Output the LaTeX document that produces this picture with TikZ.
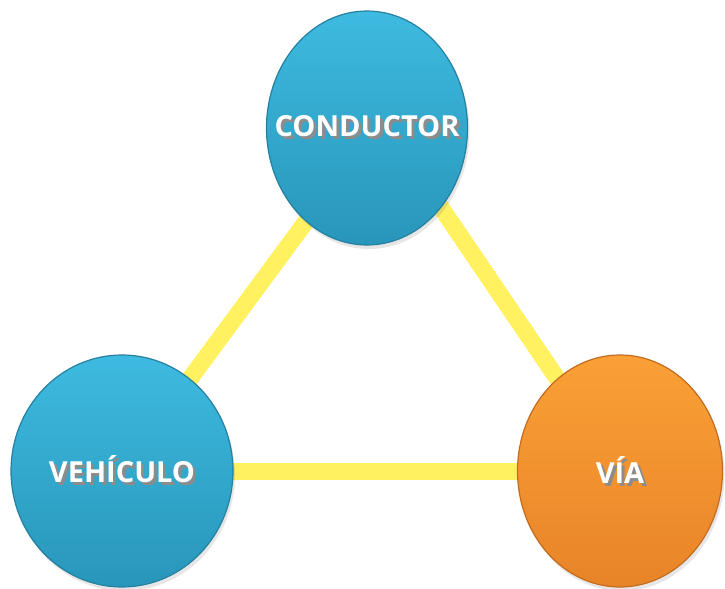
\documentclass[tikz,border=0pt]{standalone}
\usepackage{fontspec}
\setmainfont{Open Sans}
\usetikzlibrary{shapes.geometric}
\usetikzlibrary{shadows}
\usetikzlibrary{backgrounds}

\definecolor{bluetop}{RGB}{62,186,224}
\definecolor{bluebot}{RGB}{40,150,186}
\definecolor{blueedge}{RGB}{38,128,160}
\definecolor{orangetop}{RGB}{250,160,54}
\definecolor{orangebot}{RGB}{232,132,40}
\definecolor{orangeedge}{RGB}{196,108,30}
\definecolor{linkyellow}{RGB}{255,241,96}

\newcommand\glowtext[1]{\makebox[0pt]{%
  \makebox[0pt]{\kern3pt\raisebox{-1.5pt}{\textcolor{black!45}{#1}}}%
  \makebox[0pt]{\textcolor{white}{#1}}}}

\begin{document}
\begin{tikzpicture}[x=0.5pt,y=-0.5pt,node distance=171.5pt,
    ball/.style={ellipse,inner sep=0pt,line width=0.6pt,
      font=\fontsize{14.5}{17}\selectfont\bfseries,
      drop shadow={shadow xshift=1pt,shadow yshift=-2pt,opacity=0.2}},
    blueball/.style={ball,draw=blueedge,top color=bluetop,bottom color=bluebot},
    orangeball/.style={ball,draw=orangeedge,top color=orangetop,bottom color=orangebot},
    link/.style={line width=8.5pt,linkyellow}]
  \useasboundingbox (0,0) rectangle (725,589);
  \node (conductor) [blueball,minimum width=100.5pt,minimum height=117pt] at (367,128) {\glowtext{CONDUCTOR}};
  \node (vehiculo) [blueball,below of=conductor,xshift=-122.5pt,minimum width=111pt,minimum height=116pt] {\glowtext{VEHÍCULO}};
  \node (via) [orangeball,right of=vehiculo,node distance=249pt,minimum width=102.5pt,minimum height=116pt] {\glowtext{VÍA}};
  \begin{scope}[on background layer]
    \draw[link] (vehiculo.center) -- ([xshift=4pt]conductor.center);
    \draw[link] (via.center) -- ([xshift=10pt]conductor.center);
    \draw[link] (vehiculo.center) -- (via.center);
  \end{scope}
\end{tikzpicture}
\end{document}
